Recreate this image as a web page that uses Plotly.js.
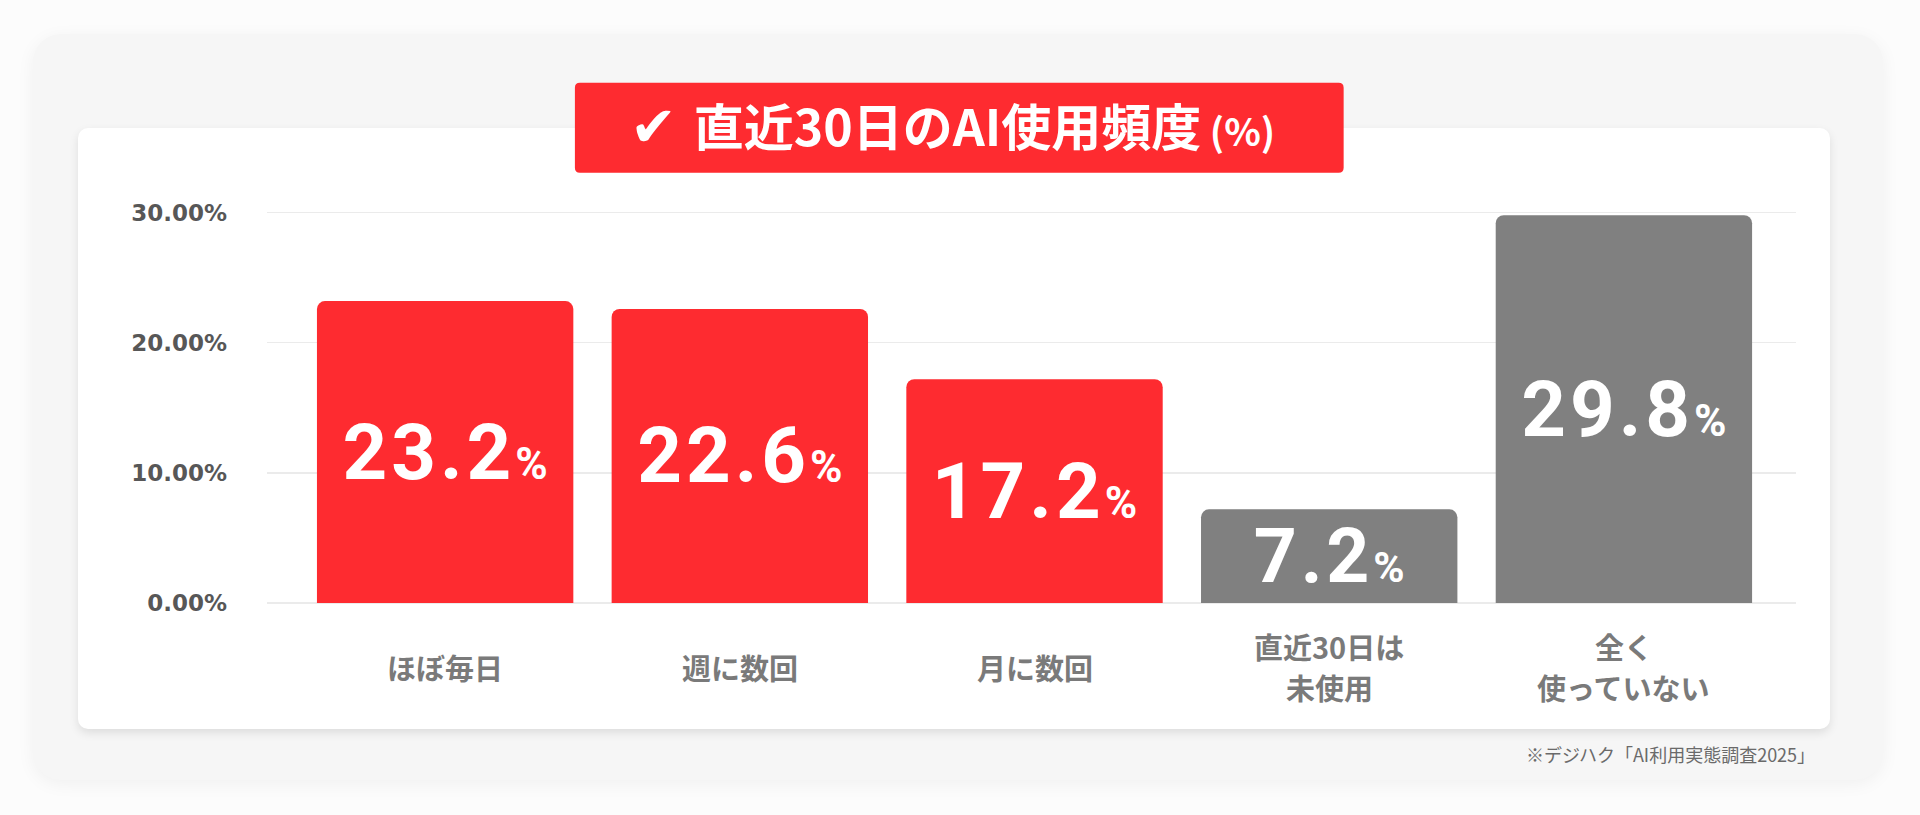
<!DOCTYPE html>
<html>
<head>
<meta charset="utf-8">
<script src="https://cdn.plot.ly/plotly-3.0.1.min.js"></script>
<style>
  html, body { margin: 0; padding: 0; width: 1920px; height: 815px; overflow: hidden; background: #fcfcfc; }
  #panel { position: absolute; left: 33px; top: 34px; width: 1850px; height: 746px; background: #f6f6f6; border-radius: 28px; box-shadow: 0 4px 18px rgba(0,0,0,0.05); }
  #card { position: absolute; left: 78px; top: 128px; width: 1752px; height: 601px; background: #ffffff; border-radius: 10px; box-shadow: 0 4px 10px rgba(0,0,0,0.10); }
  #chart { position: absolute; left: 0; top: 0; width: 1920px; height: 815px; }
</style>
</head>
<body>
<div id="panel"></div>
<div id="card"></div>
<div id="chart"></div>
<script>
// ---- data ----
const categories = ['ほぼ毎日', '週に数回', '月に数回', '直近30日は<br>未使用', '全く<br>使っていない'];
const values = [23.2, 22.6, 17.2, 7.2, 29.8];
const groups = ['used', 'used', 'used', 'unused', 'unused'];
const yTickValues = [0, 10, 20, 30];
const yTickLabels = ['0.00%', '10.00%', '20.00%', '30.00%'];
const titleMark = '✔';
const chartTitle = '直近30日のAI使用頻度';
const titleUnit = '(%)';
const sourceNote = '※デジハク「AI利用実態調査2025」';

// ---- styles ----
const RED = '#FE2B30';
const GRAY = '#808080';
const groupColor = { used: RED, unused: GRAY };
const JP = '"Noto Sans CJK JP", "Noto Sans", sans-serif';

// plot area in pixels
const W = 1920, H = 815;
const YMAX = 30.2;
const PL = 267, PR = 1796.5, PB = 602.7;
const PT = PB - (PB - 212.7) * YMAX / 30;
const px2x = p => (p - PL) / (PR - PL);
const px2y = p => (PB - p) / (PB - PT);

// rounded rect path in paper coords for title box
function roundRect(x0, y0, x1, y1, r) {
  const X = px2x, Y = px2y;
  return 'M' + X(x0 + r) + ',' + Y(y0) +
    ' L' + X(x1 - r) + ',' + Y(y0) +
    ' Q' + X(x1) + ',' + Y(y0) + ' ' + X(x1) + ',' + Y(y0 + r) +
    ' L' + X(x1) + ',' + Y(y1 - r) +
    ' Q' + X(x1) + ',' + Y(y1) + ' ' + X(x1 - r) + ',' + Y(y1) +
    ' L' + X(x0 + r) + ',' + Y(y1) +
    ' Q' + X(x0) + ',' + Y(y1) + ' ' + X(x0) + ',' + Y(y1 - r) +
    ' L' + X(x0) + ',' + Y(y0 + r) +
    ' Q' + X(x0) + ',' + Y(y0) + ' ' + X(x0 + r) + ',' + Y(y0) + ' Z';
}

const barText = values.map(v =>
  '<span style="letter-spacing:4px">' + v.toFixed(1) + '</span><span style="font-size:44px">%</span>');

const trace = {
  type: 'bar',
  x: categories,
  y: values,
  marker: { color: groups.map(g => groupColor[g]), cornerradius: 8, line: { width: 0 } },
  text: barText,
  textposition: 'inside',
  insidetextanchor: 'middle',
  constraintext: 'none',
  textangle: 0,
  textfont: { family: 'Roboto, "Liberation Sans", sans-serif', size: 78, weight: 'bold', color: '#ffffff' },
  hoverinfo: 'skip'
};

// category labels below the bars, one annotation per line
const LABEL_CENTER = 666.6, LINE_STEP = 41;
const annotations = [];
categories.forEach(c => {
  const lines = c.split('<br>');
  lines.forEach((ln, i) => {
    const py = LABEL_CENTER + (i - (lines.length - 1) / 2) * LINE_STEP;
    annotations.push({
      x: c, xref: 'x',
      y: px2y(py), yref: 'paper',
      xanchor: 'center', yanchor: 'middle',
      text: ln, showarrow: false,
      font: { family: JP, size: 29, weight: 'bold', color: '#7a7a7a' }
    });
  });
});
// check mark of the title
annotations.push({
  x: px2x(653.5), xref: 'paper', xanchor: 'center',
  y: px2y(127), yref: 'paper', yanchor: 'middle',
  text: titleMark, showarrow: false,
  font: { family: '"DejaVu Sans", sans-serif', size: 56, weight: 'bold', color: '#ffffff' }
});
annotations.push({
  x: px2x(1818), xref: 'paper', xanchor: 'right',
  y: px2y(754), yref: 'paper', yanchor: 'middle',
  text: sourceNote, showarrow: false,
  font: { family: JP, size: 18, color: '#6a6a6a' }
});

const layout = {
  width: W, height: H,
  autosize: false,
  paper_bgcolor: 'rgba(0,0,0,0)',
  plot_bgcolor: 'rgba(0,0,0,0)',
  margin: { l: PL, r: W - PR, t: PT, b: H - PB, pad: 0, autoexpand: false },
  showlegend: false,
  bargap: 0.13,
  title: {
    text: chartTitle + '<span style="font-size:38px"> ' + titleUnit + '</span>',
    x: 984.4 / W, xref: 'container', xanchor: 'center',
    y: 1 - 128.5 / H, yref: 'container', yanchor: 'middle',
    font: { family: JP, size: 50, weight: 'bold', color: '#ffffff' }
  },
  xaxis: {
    type: 'category',
    range: [-0.6045, 4.584],
    showticklabels: false, showgrid: false, zeroline: false, showline: false, ticks: '',
    fixedrange: true
  },
  yaxis: {
    range: [0, YMAX],
    tickmode: 'array',
    tickvals: yTickValues,
    ticktext: yTickLabels,
    showgrid: true, gridcolor: '#ebebeb', gridwidth: 1.5,
    zeroline: true, zerolinecolor: '#ebebeb', zerolinewidth: 1.5,
    showline: false, ticks: '',
    ticklabelstandoff: 39,
    tickfont: { family: '"DejaVu Sans", sans-serif', size: 23, weight: 'bold', color: '#575757' },
    fixedrange: true
  },
  shapes: [{
    type: 'path', xref: 'paper', yref: 'paper', layer: 'below',
    path: roundRect(575, 83, 1344, 173, 5),
    fillcolor: RED, line: { width: 0 }
  }],
  annotations: annotations
};

Plotly.newPlot('chart', [trace], layout, { displayModeBar: false, staticPlot: true });
</script>
</body>
</html>
